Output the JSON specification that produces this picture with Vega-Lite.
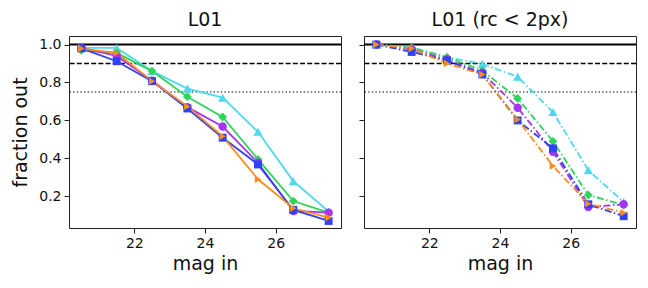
{
  "$schema": "https://vega.github.io/schema/vega-lite/v6.json",
  "padding": {"left": 11, "top": 10, "right": 5, "bottom": 3},
  "config": {
    "font": "DejaVu Sans",
    "view": {"stroke": "#222", "strokeWidth": 1},
    "axis": {"grid": false, "domain": false, "tickColor": "#222", "tickSize": 5, "labelFontSize": 14, "labelColor": "#111", "titleFontSize": 19, "titleFontWeight": "normal", "titleColor": "#111", "labelPadding": 3, "titlePadding": 4},
    "title": {"fontSize": 19, "fontWeight": "normal", "color": "#111", "offset": 6},
    "concat": {"spacing": 15}
  },
  "datasets": {
    "pts": [
      {"panel": "L", "s": "cyan", "mag": 20.5, "f": 0.982}, {"panel": "L", "s": "cyan", "mag": 21.5, "f": 0.982}, {"panel": "L", "s": "cyan", "mag": 22.5, "f": 0.86}, {"panel": "L", "s": "cyan", "mag": 23.5, "f": 0.768}, {"panel": "L", "s": "cyan", "mag": 24.5, "f": 0.72}, {"panel": "L", "s": "cyan", "mag": 25.5, "f": 0.54}, {"panel": "L", "s": "cyan", "mag": 26.5, "f": 0.28}, {"panel": "L", "s": "cyan", "mag": 27.5, "f": 0.12},
      {"panel": "L", "s": "green", "mag": 20.5, "f": 0.97}, {"panel": "L", "s": "green", "mag": 21.5, "f": 0.956}, {"panel": "L", "s": "green", "mag": 22.5, "f": 0.86}, {"panel": "L", "s": "green", "mag": 23.5, "f": 0.725}, {"panel": "L", "s": "green", "mag": 24.5, "f": 0.618}, {"panel": "L", "s": "green", "mag": 25.5, "f": 0.395}, {"panel": "L", "s": "green", "mag": 26.5, "f": 0.175}, {"panel": "L", "s": "green", "mag": 27.5, "f": 0.114},
      {"panel": "L", "s": "purple", "mag": 20.5, "f": 0.982}, {"panel": "L", "s": "purple", "mag": 21.5, "f": 0.94}, {"panel": "L", "s": "purple", "mag": 22.5, "f": 0.81}, {"panel": "L", "s": "purple", "mag": 23.5, "f": 0.67}, {"panel": "L", "s": "purple", "mag": 24.5, "f": 0.568}, {"panel": "L", "s": "purple", "mag": 25.5, "f": 0.377}, {"panel": "L", "s": "purple", "mag": 26.5, "f": 0.123}, {"panel": "L", "s": "purple", "mag": 27.5, "f": 0.114},
      {"panel": "L", "s": "blue", "mag": 20.5, "f": 0.98}, {"panel": "L", "s": "blue", "mag": 21.5, "f": 0.912}, {"panel": "L", "s": "blue", "mag": 22.5, "f": 0.807}, {"panel": "L", "s": "blue", "mag": 23.5, "f": 0.663}, {"panel": "L", "s": "blue", "mag": 24.5, "f": 0.509}, {"panel": "L", "s": "blue", "mag": 25.5, "f": 0.368}, {"panel": "L", "s": "blue", "mag": 26.5, "f": 0.128}, {"panel": "L", "s": "blue", "mag": 27.5, "f": 0.07},
      {"panel": "L", "s": "orange", "mag": 20.5, "f": 0.979}, {"panel": "L", "s": "orange", "mag": 21.5, "f": 0.956}, {"panel": "L", "s": "orange", "mag": 22.5, "f": 0.807}, {"panel": "L", "s": "orange", "mag": 23.5, "f": 0.674}, {"panel": "L", "s": "orange", "mag": 24.5, "f": 0.516}, {"panel": "L", "s": "orange", "mag": 25.5, "f": 0.29}, {"panel": "L", "s": "orange", "mag": 26.5, "f": 0.137}, {"panel": "L", "s": "orange", "mag": 27.5, "f": 0.088},
      {"panel": "R", "s": "cyan", "mag": 20.5, "f": 1.0}, {"panel": "R", "s": "cyan", "mag": 21.5, "f": 0.986}, {"panel": "R", "s": "cyan", "mag": 22.5, "f": 0.933}, {"panel": "R", "s": "cyan", "mag": 23.5, "f": 0.898}, {"panel": "R", "s": "cyan", "mag": 24.5, "f": 0.83}, {"panel": "R", "s": "cyan", "mag": 25.5, "f": 0.644}, {"panel": "R", "s": "cyan", "mag": 26.5, "f": 0.337}, {"panel": "R", "s": "cyan", "mag": 27.5, "f": 0.17},
      {"panel": "R", "s": "green", "mag": 20.5, "f": 1.0}, {"panel": "R", "s": "green", "mag": 21.5, "f": 0.982}, {"panel": "R", "s": "green", "mag": 22.5, "f": 0.933}, {"panel": "R", "s": "green", "mag": 23.5, "f": 0.863}, {"panel": "R", "s": "green", "mag": 24.5, "f": 0.716}, {"panel": "R", "s": "green", "mag": 25.5, "f": 0.49}, {"panel": "R", "s": "green", "mag": 26.5, "f": 0.207}, {"panel": "R", "s": "green", "mag": 27.5, "f": 0.154},
      {"panel": "R", "s": "purple", "mag": 20.5, "f": 1.0}, {"panel": "R", "s": "purple", "mag": 21.5, "f": 0.974}, {"panel": "R", "s": "purple", "mag": 22.5, "f": 0.921}, {"panel": "R", "s": "purple", "mag": 23.5, "f": 0.851}, {"panel": "R", "s": "purple", "mag": 24.5, "f": 0.667}, {"panel": "R", "s": "purple", "mag": 25.5, "f": 0.435}, {"panel": "R", "s": "purple", "mag": 26.5, "f": 0.144}, {"panel": "R", "s": "purple", "mag": 27.5, "f": 0.158},
      {"panel": "R", "s": "blue", "mag": 20.5, "f": 1.0}, {"panel": "R", "s": "blue", "mag": 21.5, "f": 0.961}, {"panel": "R", "s": "blue", "mag": 22.5, "f": 0.916}, {"panel": "R", "s": "blue", "mag": 23.5, "f": 0.842}, {"panel": "R", "s": "blue", "mag": 24.5, "f": 0.6}, {"panel": "R", "s": "blue", "mag": 25.5, "f": 0.453}, {"panel": "R", "s": "blue", "mag": 26.5, "f": 0.158}, {"panel": "R", "s": "blue", "mag": 27.5, "f": 0.095},
      {"panel": "R", "s": "orange", "mag": 20.5, "f": 1.0}, {"panel": "R", "s": "orange", "mag": 21.5, "f": 0.979}, {"panel": "R", "s": "orange", "mag": 22.5, "f": 0.9}, {"panel": "R", "s": "orange", "mag": 23.5, "f": 0.842}, {"panel": "R", "s": "orange", "mag": 24.5, "f": 0.605}, {"panel": "R", "s": "orange", "mag": 25.5, "f": 0.36}, {"panel": "R", "s": "orange", "mag": 26.5, "f": 0.161}, {"panel": "R", "s": "orange", "mag": 27.5, "f": 0.114}
    ],
    "refs": [
      {"level": 1.0, "kind": "solid"},
      {"level": 0.9, "kind": "dashed"},
      {"level": 0.75, "kind": "dotted"}
    ]
  },
  "hconcat": [
    {
      "title": "L01",
      "width": 272,
      "height": 192,
      "layer": [
        {
          "data": {"name": "refs"},
          "mark": {"type": "rule", "color": "black"},
          "encoding": {
            "y": {"field": "level", "type": "quantitative", "scale": {"domain": [0.033, 1.045], "nice": false, "zero": false}},
            "strokeWidth": {"field": "kind", "type": "nominal", "scale": {"domain": ["solid", "dashed", "dotted"], "range": [2, 1, 1]}, "legend": null},
            "strokeDash": {"field": "kind", "type": "nominal", "scale": {"domain": ["solid", "dashed", "dotted"], "range": [[1, 0], [5, 2.2], [1.4, 2.2]]}, "legend": null}
          }
        },
        {
          "data": {"name": "pts"},
          "transform": [{"filter": "datum.panel === 'L'"}],
          "mark": {"type": "line", "strokeWidth": 1.8},
          "encoding": {
            "x": {"field": "mag", "type": "quantitative", "scale": {"domain": [20.15, 27.85], "nice": false, "zero": false}, "axis": {"title": "mag in", "values": [22, 24, 26]}},
            "y": {"field": "f", "type": "quantitative", "axis": {"title": "fraction out", "values": [0.2, 0.4, 0.6, 0.8, 1.0], "format": ".1f", "titlePadding": 8}},
            "color": {"field": "s", "type": "nominal", "scale": {"domain": ["cyan", "green", "purple", "blue", "orange"], "range": ["#4fd8ee", "#2fd45a", "#a733f5", "#2f43f2", "#ff8c1a"]}, "legend": null},
            "order": {"field": "mag"}
          }
        },
        {
          "data": {"name": "pts"},
          "transform": [{"filter": "datum.panel === 'L'"}],
          "mark": {"type": "point", "filled": true, "opacity": 1},
          "encoding": {
            "x": {"field": "mag", "type": "quantitative"},
            "y": {"field": "f", "type": "quantitative"},
            "color": {"field": "s", "type": "nominal", "legend": null},
            "size": {"field": "s", "type": "nominal", "scale": {"domain": ["cyan", "green", "purple", "blue", "orange"], "range": [85, 55, 60, 55, 85]}, "legend": null},
            "shape": {"field": "s", "type": "nominal", "scale": {"domain": ["cyan", "green", "purple", "blue", "orange"], "range": ["triangle-up", "diamond", "circle", "square", "triangle-right"]}, "legend": null}
          }
        }
      ]
    },
    {
      "title": "L01 (rc < 2px)",
      "width": 272,
      "height": 192,
      "layer": [
        {
          "data": {"name": "refs"},
          "mark": {"type": "rule", "color": "black"},
          "encoding": {
            "y": {"field": "level", "type": "quantitative", "scale": {"domain": [0.033, 1.045], "nice": false, "zero": false}},
            "strokeWidth": {"field": "kind", "type": "nominal", "scale": {"domain": ["solid", "dashed", "dotted"], "range": [2, 1, 1]}, "legend": null},
            "strokeDash": {"field": "kind", "type": "nominal", "scale": {"domain": ["solid", "dashed", "dotted"], "range": [[1, 0], [5, 2.2], [1.4, 2.2]]}, "legend": null}
          }
        },
        {
          "data": {"name": "pts"},
          "transform": [{"filter": "datum.panel === 'R'"}],
          "mark": {"type": "line", "strokeWidth": 1.8, "strokeDash": [7, 2.5, 1.5, 2.5]},
          "encoding": {
            "x": {"field": "mag", "type": "quantitative", "scale": {"domain": [20.15, 27.85], "nice": false, "zero": false}, "axis": {"title": "mag in", "values": [22, 24, 26]}},
            "y": {"field": "f", "type": "quantitative", "axis": {"title": null, "labels": false, "values": [0.2, 0.4, 0.6, 0.8, 1.0]}},
            "color": {"field": "s", "type": "nominal", "scale": {"domain": ["cyan", "green", "purple", "blue", "orange"], "range": ["#4fd8ee", "#2fd45a", "#a733f5", "#2f43f2", "#ff8c1a"]}, "legend": null},
            "order": {"field": "mag"}
          }
        },
        {
          "data": {"name": "pts"},
          "transform": [{"filter": "datum.panel === 'R'"}],
          "mark": {"type": "point", "filled": true, "opacity": 1},
          "encoding": {
            "x": {"field": "mag", "type": "quantitative"},
            "y": {"field": "f", "type": "quantitative"},
            "color": {"field": "s", "type": "nominal", "legend": null},
            "size": {"field": "s", "type": "nominal", "scale": {"domain": ["cyan", "green", "purple", "blue", "orange"], "range": [85, 55, 60, 55, 85]}, "legend": null},
            "shape": {"field": "s", "type": "nominal", "scale": {"domain": ["cyan", "green", "purple", "blue", "orange"], "range": ["triangle-up", "diamond", "circle", "square", "triangle-right"]}, "legend": null}
          }
        }
      ]
    }
  ]
}
